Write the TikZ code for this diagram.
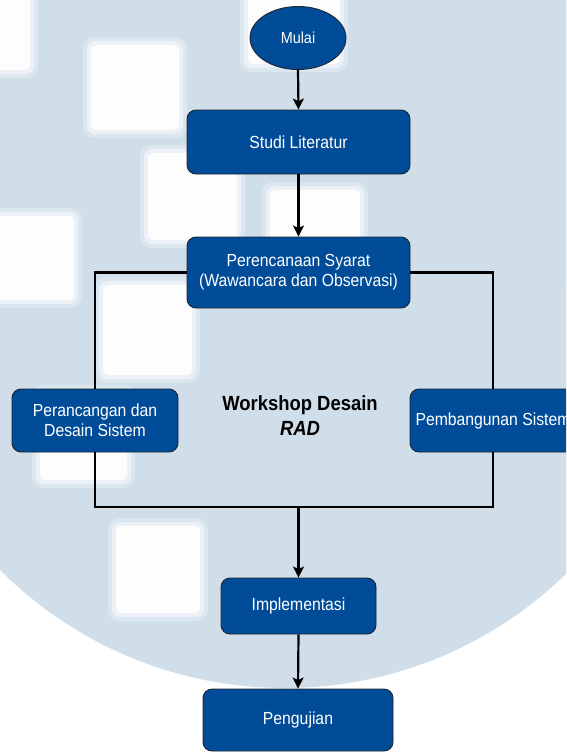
\documentclass[tikz,border=0pt]{standalone}
\usepackage{fontspec}
\setmainfont{Liberation Sans}[FakeStretch=0.9]
\usetikzlibrary{arrows.meta,shapes.geometric}
\definecolor{bgblue}{HTML}{D0DEEA}
\definecolor{boxblue}{HTML}{004C99}
\definecolor{edgecol}{HTML}{1C2630}
\begin{document}
\begin{tikzpicture}[x=1pt,y=-1pt,
  proc/.style={draw=edgecol, line width=0.9pt, fill=boxblue, rounded corners=9pt, text=white, font=\fontsize{17.5}{20}\selectfont, align=center, inner sep=0pt},
  term/.style={ellipse, draw=edgecol, line width=0.9pt, fill=boxblue, text=white, font=\fontsize{16}{19}\selectfont, inner sep=0pt},
  link/.style={line width=2.2pt, draw=black},
  arr/.style={link, -{Stealth[length=11pt,width=11pt,inset=2.5pt]}},
  wmsoft/.style={fill=white, opacity=0.25, rounded corners=11pt},
  wmmid/.style={fill=white, opacity=0.45, rounded corners=8pt},
  wmcore/.style={fill=white, opacity=0.9, rounded corners=6pt}
]
\useasboundingbox (0,0) rectangle (566,752);
\clip (0,0) rectangle (566,752);
% background watermark
\fill[white] (0,0) rectangle (566,752);
\fill[bgblue] (-5,-5) rectangle (571,285);
\fill[bgblue] (285,285) circle[radius=403pt];
\foreach \a/\b/\c/\d in {-61/-20/33/73, 88/42/182/133, 145/150/240/243, -15/213/77/303, 100/282/195/378, 267/187/363/279, 245/-25/343/67, 37/390/130/483, 113/523/203/616}{
  \fill[wmsoft] (\a-5,\b-5) rectangle (\c+5,\d+5);
  \fill[wmmid] (\a-1,\b-1) rectangle (\c+1,\d+1);
  \fill[wmcore] (\a+3,\b+3) rectangle (\c-3,\d-3);
}
% nodes
\node[term, minimum width=96pt, minimum height=63pt] (start) at (298,38) {Mulai};
\node[proc, minimum width=223pt, minimum height=64pt] (studi) at (298.5,142) {Studi Literatur};
\node[proc, minimum width=223pt, minimum height=71pt] (plan) at (298.5,272.5) {Perencanaan Syarat\\(Wawancara dan Observasi)};
\node[proc, minimum width=166pt, minimum height=63pt] (design) at (95,420.5) {Perancangan dan\\Desain Sistem};
\node[proc, minimum width=166pt, minimum height=63pt] (build) at (493,420.5) {Pembangunan Sistem};
\node[font=\bfseries\fontsize{20.5}{25}\selectfont, align=center, inner sep=0pt] (ws) at (300,416) {Workshop Desain\\\textit{RAD}};
\node[proc, minimum width=155pt, minimum height=56pt] (impl) at (298.5,606) {Implementasi};
\node[proc, minimum width=190pt, minimum height=62pt] (test) at (298,720) {Pengujian};
\coordinate (bl) at (95,507);
\coordinate (br) at (493,507);
\coordinate (bm) at (298.5,507);
% connectors
\draw[arr] (start.south) -- (studi.north);
\draw[arr] (studi.south) -- (plan.north);
\draw[link] (plan.west) -| (design.north);
\draw[link] (plan.east) -| (build.north);
\draw[link] (design.south) -- (bl) -- (br) -- (build.south);
\draw[arr] (bm) -- (impl.north);
\draw[arr] (impl.south) -- (test.north);
\end{tikzpicture}
\end{document}
